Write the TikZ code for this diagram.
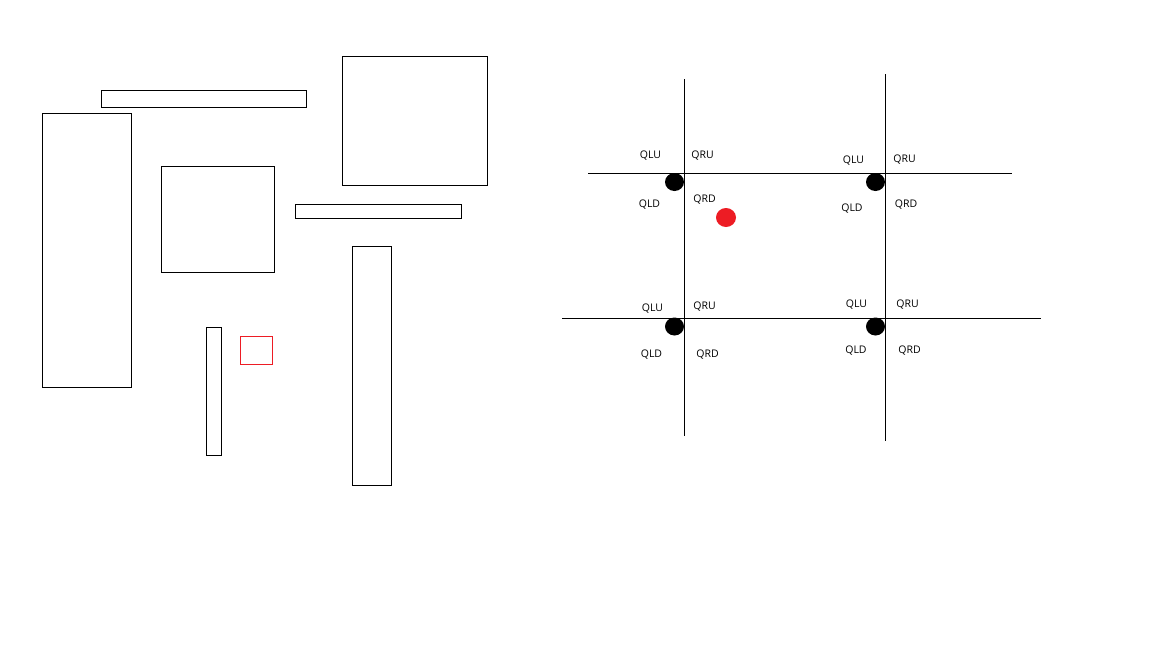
\documentclass[tikz,border=0pt]{standalone}
\usepackage{fontspec}
\setmainfont{Open Sans}
\definecolor{paintred}{RGB}{237,28,36}
\tikzset{
    box/.style={draw=black, line width=1pt},
    axisline/.style={draw=black, line width=1pt},
    qlabel/.style={inner sep=0pt, anchor=base, font=\fontsize{10.5}{12}\selectfont},
}
\begin{document}
\begin{tikzpicture}[x=1pt,y=-1pt]
    \useasboundingbox (0,0) rectangle (1152,648);
    % left: rectangles
    \foreach \xa/\ya/\xb/\yb in {101/90/306/107, 42/113/131/387, 161/166/274/272,
        342/56/487/185, 295/204/461/218, 352/246/391/485, 206/327/221/455} {
        \draw[box] (\xa,\ya) rectangle (\xb,\yb);
    }
    \draw[box, draw=paintred] (240,336) rectangle (272,364);
    % right: grid lines
    \coordinate (v1top) at (684,79);  \coordinate (v1bot) at (684,436);
    \coordinate (v2top) at (885,74);  \coordinate (v2bot) at (885,441);
    \coordinate (h1left) at (588,173); \coordinate (h1right) at (1012,173);
    \coordinate (h2left) at (562,318); \coordinate (h2right) at (1041,318);
    \draw[axisline] (v1top) -- (v1bot);
    \draw[axisline] (v2top) -- (v2bot);
    \draw[axisline] (h1left) -- (h1right);
    \draw[axisline] (h2left) -- (h2right);
    % corner points
    \foreach \n/\x/\y in {a/674.5/182, b/875.5/182, c/674.5/326.5, d/875.5/326.5} {
        \fill[black] (\x,\y) ellipse (9.5 and 9);
    }
    \fill[paintred] (726,217.5) ellipse (10 and 9.5);
    % quadrant labels (y is the baseline)
    \foreach \n/\x/\y/\t in {
        qlua/650.5/158/QLU, qrua/702.5/158/QRU, qlda/649.5/207/QLD, qrda/704.5/202/QRD,
        qlub/853.5/163/QLU, qrub/904.5/162/QRU, qldb/852/211/QLD, qrdb/906/207/QRD,
        qluc/652.5/311/QLU, qruc/704.5/309.5/QRU, qldc/651.5/357/QLD, qrdc/707.5/357/QRD,
        qlud/856.5/307/QLU, qrud/907.5/307/QRU, qldd/856/353/QLD, qrdd/909.5/353/QRD} {
        \node[qlabel] (\n) at (\x,\y) {\t};
    }
\end{tikzpicture}
\end{document}
